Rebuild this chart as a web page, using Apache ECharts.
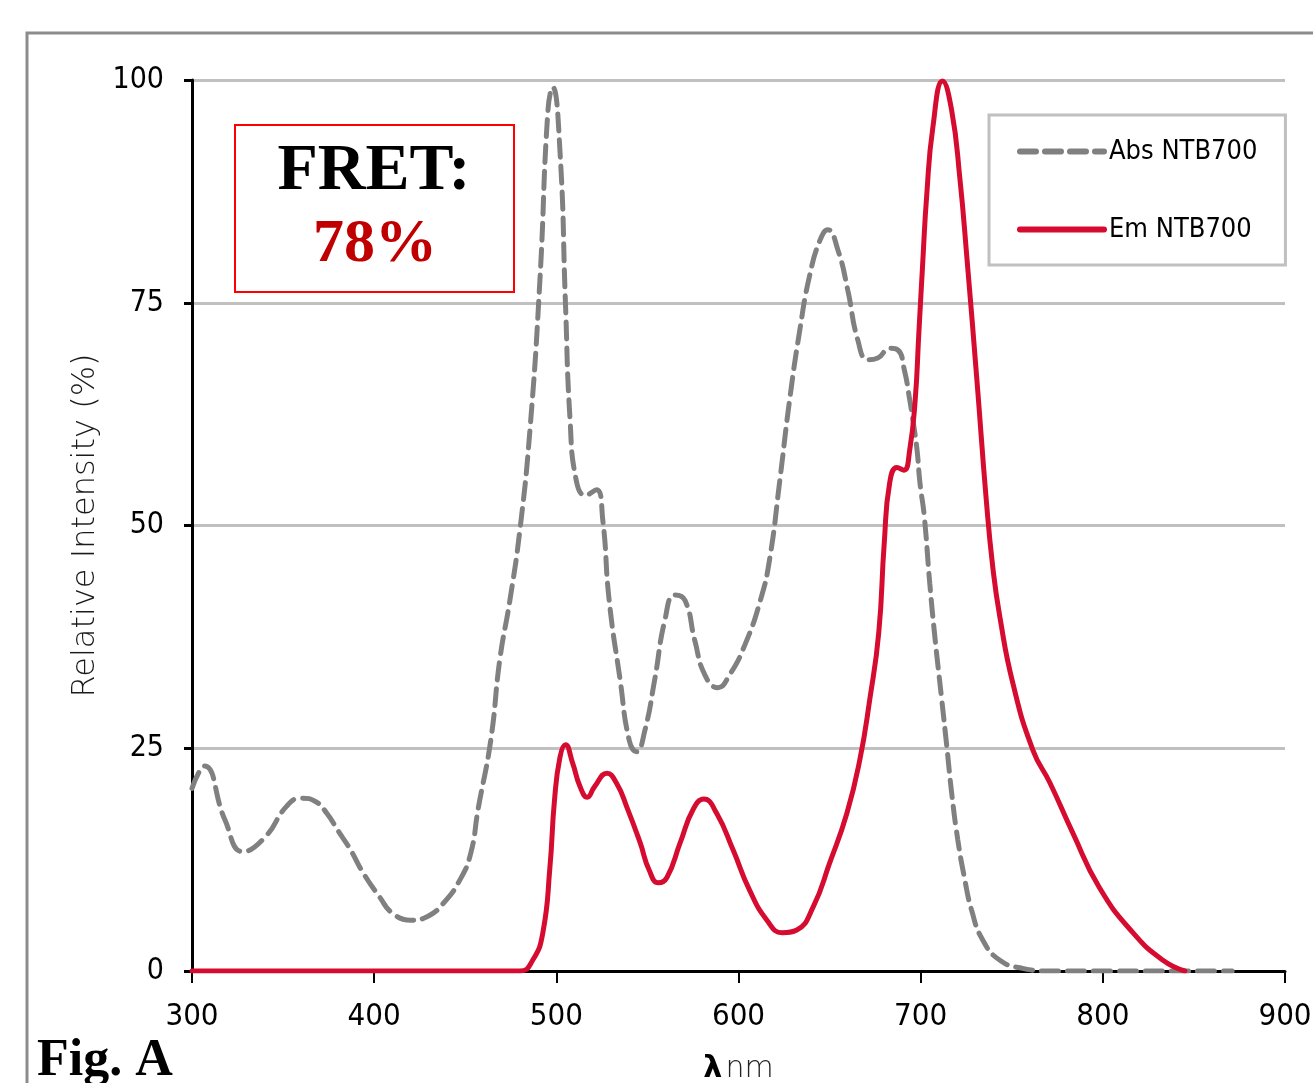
<!DOCTYPE html>
<html>
<head>
<meta charset="utf-8">
<script src="https://cdn.jsdelivr.net/npm/echarts@6/dist/echarts.min.js"></script>
<style>
  html, body { margin: 0; padding: 0; background: #fff; }
  #chart { width: 1313px; height: 1083px; }
</style>
</head>
<body>
<div id="chart"></div>
<script>
  // wavelength (nm) / relative intensity (%)
  var absX = [300, 307, 318, 328, 340, 352, 360, 368, 374, 380, 387, 394, 403, 410, 420, 429, 438, 447, 453, 457,
    464, 469, 474.5, 480, 485.5, 491, 495.4, 498, 502, 505, 507.5, 511, 516, 522, 525.5, 529, 535, 540, 544, 548.6,
    554, 559.6, 565, 570.6, 576, 581.6, 588.7, 595, 603.5, 612, 617, 622.7, 628, 633.7, 639, 644.7, 649, 654.6,
    660, 665.5, 671, 676.5, 683, 687.5, 691, 694, 696, 698, 699.6, 702, 705, 708, 711.6, 714.4, 717, 720.4,
    724, 728, 734, 743.5, 756, 771, 800, 840, 871]
  var absY = [20.5, 23, 17, 13.4, 15, 18.5, 19.4, 19, 17.7, 15.8, 13.6, 11, 8.3, 6.5, 5.7, 6.1, 7.6, 10.2, 13.2, 18.1,
    25.9, 35, 41.6, 49.5, 60.7, 77.6, 96.6, 99.2, 92, 75, 62, 55, 53.4, 54, 50.6, 41.6, 32.7, 25.9, 24.6, 27,
    32.7, 39.4, 42.2, 41.6, 37.1, 33.2, 31.8, 33.2, 36.6, 41.6, 46.1, 55.1, 64, 72, 78, 82, 83.2, 80.9,
    76.4, 70.8, 68.6, 68.8, 69.9, 69.7, 67.5, 64.1, 61.5, 58.5, 54.8, 51, 43.5, 37.1, 30.4, 25.1, 20, 14.7,
    10.5, 6.8, 3.5, 1.2, 0.3, 0, 0, 0, 0]

  var emX = [300, 400, 480, 487, 492.6, 496.5, 499, 502, 505, 509, 513, 517, 521, 527.8, 533, 538.7, 546, 551, 556,
    560.7, 568, 575, 581, 588, 597, 606, 615.6, 624, 632, 641, 650, 659.5, 666.6, 672, 677, 680, 683, 687,
    690.8, 694, 697, 699, 701, 703.4, 706.7, 712, 717, 721.5, 725.4, 731, 736, 739.6, 743.5, 750.6, 761.6,
    771, 783.5, 798, 816.5, 833, 845]
  var emY = [0, 0, 0, 1.2, 4.3, 11.7, 19.2, 24, 25.4, 23.3, 20.7, 19.5, 20.7, 22.2, 21.1, 18.4, 14.4, 11.3, 9.9,
    10.5, 14.4, 18.1, 19.3, 17.7, 13.6, 9.1, 5.7, 4.3, 4.6, 7.2, 12.1, 17.7, 23.7, 30.4, 38, 48, 54.8, 56.5,
    56.2, 58.5, 64.1, 71.6, 79, 87.3, 94.7, 99.9, 96.6, 89, 80, 66, 52.9, 45.3, 39.7, 32.3, 24.8,
    21.1, 15.5, 9.4, 4.3, 1.2, 0]

  var seriesNames = ['Abs NTB700', 'Em NTB700']
  var yTicks = [0, 25, 50, 75, 100]

  var narrow = "'Liberation Sans Narrow', 'DejaVu Sans Condensed', 'Roboto Condensed', sans-serif"
  var grey = '#808080'
  var red = '#d50b30'

  function pairs(xs, ys) {
    return xs.map(function (x, i) { return [x, ys[i]] })
  }

  var chart = echarts.init(document.getElementById('chart'))
  chart.setOption({
    backgroundColor: '#fff',
    animation: false,
    grid: {
      left: 192,
      right: 28,
      top: 80,
      bottom: 112,
      containLabel: false,
      outerBoundsMode: 'none'
    },
    legend: {
      data: [{
        name: seriesNames[0],
        itemStyle: { opacity: 0 },
        lineStyle: { width: 6, type: [16, 9], cap: 'round' }
      }, {
        name: seriesNames[1],
        itemStyle: { opacity: 0 },
        lineStyle: { width: 6, cap: 'round' }
      }],
      orient: 'vertical',
      left: 989,
      top: 115,
      padding: [23, 28, 22, 28],
      itemGap: 51,
      itemWidth: 84,
      itemHeight: 14,
      borderColor: '#c0c0c0',
      borderWidth: 3,
      textStyle: {
        fontFamily: narrow,
        fontSize: 27,
        color: '#000'
      }
    },
    xAxis: {
      type: 'value',
      min: 300,
      max: 900,
      interval: 100,
      name: '{l|λ} {n|nm}',
      nameLocation: 'middle',
      nameGap: 83,
      nameTextStyle: {
        rich: {
          l: { fontFamily: 'DejaVu Sans', fontWeight: 'bold', fontSize: 30, color: '#000' },
          n: { fontFamily: 'DejaVu Sans', fontWeight: 200, fontSize: 30, color: '#222' }
        }
      },
      axisLine: { lineStyle: { color: '#000', width: 3 } },
      axisTick: { length: 12, lineStyle: { color: '#000', width: 2 } },
      axisLabel: {
        margin: 30,
        fontFamily: narrow,
        fontSize: 31,
        color: '#000'
      },
      splitLine: { show: false }
    },
    yAxis: {
      type: 'value',
      min: 0,
      max: 100,
      interval: 25,
      name: 'Relative Intensity (%)',
      nameLocation: 'middle',
      nameRotate: 90,
      nameGap: 88,
      nameTextStyle: {
        fontFamily: 'DejaVu Sans',
        fontWeight: 200,
        fontSize: 32,
        color: '#1a1a1a'
      },
      axisLine: { show: true, lineStyle: { color: '#000', width: 3 } },
      axisTick: { show: true, length: 8, lineStyle: { color: '#000', width: 3 } },
      axisLabel: {
        margin: 28,
        fontFamily: narrow,
        fontSize: 30,
        color: '#000',
        formatter: function (v) { return yTicks.indexOf(v) >= 0 ? String(v) : '' }
      },
      splitLine: { lineStyle: { color: '#c0c0c0', width: 3 } }
    },
    series: [{
      name: seriesNames[0],
      type: 'line',
      data: pairs(absX, absY),
      smooth: 0.5,
      symbol: 'none',
      color: grey,
      lineStyle: {
        color: grey,
        width: 5,
        type: [17, 9],
        cap: 'round'
      },
      z: 3
    }, {
      name: seriesNames[1],
      type: 'line',
      data: pairs(emX, emY),
      smooth: 0.5,
      symbol: 'none',
      color: red,
      lineStyle: {
        color: red,
        width: 5,
        cap: 'round'
      },
      z: 4
    }],
    graphic: [{
      // outer frame
      type: 'rect',
      shape: { x: 27, y: 33, width: 1320, height: 1100 },
      style: { fill: 'none', stroke: '#8c8c8c', lineWidth: 3 },
      silent: true
    }, {
      type: 'rect',
      shape: { x: 235, y: 125, width: 279, height: 167 },
      style: { fill: '#fff', stroke: '#ff0000', lineWidth: 2 },
      z: 10
    }, {
      type: 'text',
      x: 374,
      y: 139,
      style: {
        text: 'FRET:',
        textAlign: 'center',
        font: 'bold 66px "Liberation Serif"',
        fill: '#000'
      },
      z: 11
    }, {
      type: 'text',
      x: 375,
      y: 214,
      style: {
        text: '78%',
        textAlign: 'center',
        font: 'bold 62px "Liberation Serif"',
        fill: '#c00000'
      },
      z: 11
    }, {
      type: 'text',
      left: 37,
      top: 1036,
      style: {
        text: 'Fig. A',
        font: 'bold 52px "Liberation Serif"',
        fill: '#000'
      },
      z: 11
    }]
  })
</script>
</body>
</html>
